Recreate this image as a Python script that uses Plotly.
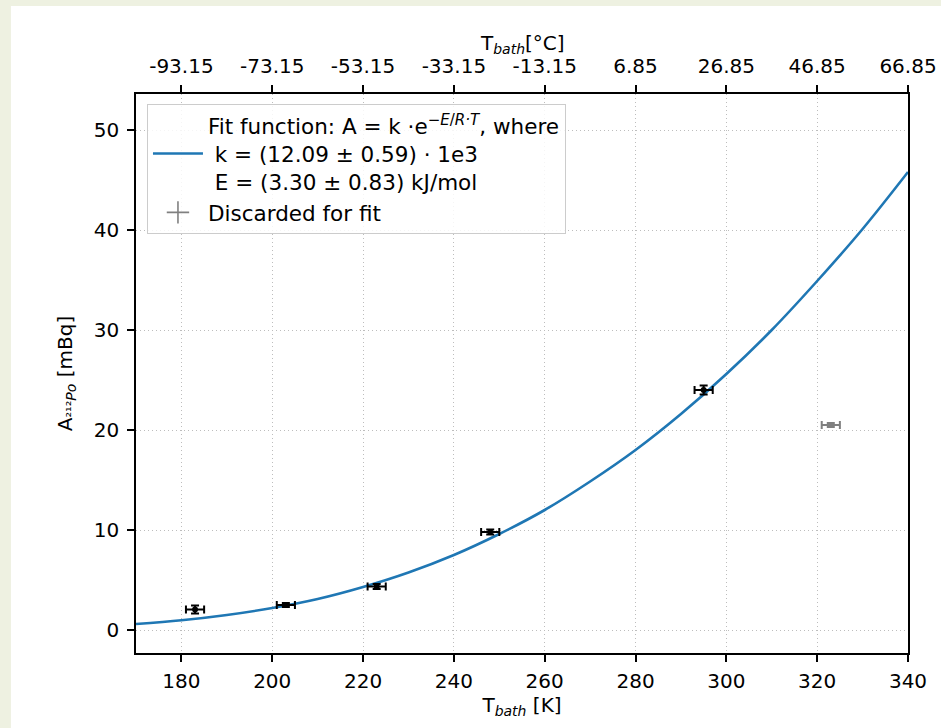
import plotly.graph_objects as go

# ---- data ----
T_fit = [183, 203, 223, 248, 295]
A_fit = [2.05, 2.5, 4.35, 9.8, 24.0]
T_err = [2.0, 2.0, 2.0, 2.0, 2.0]
A_err = [0.4, 0.2, 0.25, 0.25, 0.45]

T_disc = [323]
A_disc = [20.5]
T_disc_err = [2.0]
A_disc_err = [0.2]

curve_T = [170, 180, 190, 200, 210, 220, 230, 240, 250, 260, 270, 280, 290, 300, 310, 320, 330, 340]
curve_A = [0.6, 0.97, 1.5, 2.2, 3.1, 4.3, 5.75, 7.5, 9.6, 12.0, 14.85, 18.0, 21.6, 25.6, 30.0, 34.9, 40.1, 45.8]

x_ticks = [180, 200, 220, 240, 260, 280, 300, 320, 340]
top_tick_labels = ["-93.15", "-73.15", "-53.15", "-33.15", "-13.15", "6.85", "26.85", "46.85", "66.85"]
y_ticks = [0, 10, 20, 30, 40, 50]

FONT = "DejaVu Sans, sans-serif"
GRID = "#bdbdbd"
fig = go.Figure()

fig.add_trace(go.Scatter(
    x=curve_T, y=curve_A, mode="lines", line=dict(color="#1f77b4", width=2.6, shape="spline"),
    name="Fit function: A = k ·e<sup>−<i>E</i>/<i>R·T</i></sup>, where<br> k = (12.09 ± 0.59) · 1e3<br> E = (3.30 ± 0.83) kJ/mol",
))
fig.add_trace(go.Scatter(
    x=T_fit, y=A_fit, mode="markers", marker=dict(color="black", size=6),
    error_x=dict(type="data", array=T_err, color="black", thickness=2, width=4),
    error_y=dict(type="data", array=A_err, color="black", thickness=2, width=4),
    showlegend=False,
))
fig.add_trace(go.Scatter(
    x=T_disc, y=A_disc, mode="markers", marker=dict(color="gray", size=6),
    error_x=dict(type="data", array=T_disc_err, color="gray", thickness=2, width=4),
    error_y=dict(type="data", array=A_disc_err, color="gray", thickness=2, width=4),
    showlegend=False,
))
# legend-only entry for discarded point (error-bar like cross symbol)
fig.add_trace(go.Scatter(
    x=[None], y=[None], mode="markers",
    marker=dict(color="gray", size=16, symbol="cross-thin-open", line=dict(color="gray", width=1.6)),
    name="Discarded for fit",
))
# invisible trace to activate top axis
fig.add_trace(go.Scatter(x=[170, 340], y=[None, None], xaxis="x2", showlegend=False, hoverinfo="skip"))

fig.update_layout(
    width=941, height=728,
    margin=dict(l=136, r=33, t=94, b=75, autoexpand=False),
    paper_bgcolor="#eef1e1",
    plot_bgcolor="white",
    font=dict(family=FONT, size=20, color="black"),
    shapes=[dict(type="rect", xref="paper", yref="paper", x0=-0.162, x1=1.2, y0=-0.3, y1=1.1574,
                 fillcolor="white", line=dict(width=0), layer="below")],
    annotations=[dict(text="T<sub><i>bath</i></sub>[°C]", xref="paper", yref="paper", x=0.5, y=1.0894,
                      xanchor="center", yanchor="middle", showarrow=False, font=dict(size=20))],
    xaxis=dict(
        range=[170, 340], tickvals=x_ticks, showgrid=True, gridcolor=GRID, griddash="1px,3px", gridwidth=1.3,
        showline=True, linecolor="black", linewidth=1.5, ticks="outside", ticklen=7, tickwidth=1.5,
        tickcolor="black", zeroline=False, ticklabelstandoff=2, automargin=False,
        title=dict(text="T<sub><i>bath</i></sub> [K]", font=dict(size=20), standoff=6),
    ),
    xaxis2=dict(
        range=[170, 340], overlaying="x", side="top", tickvals=x_ticks, ticktext=top_tick_labels,
        showgrid=False, showline=True, linecolor="black", linewidth=1.5, ticks="outside", ticklen=7,
        tickwidth=1.5, tickcolor="black", zeroline=False, ticklabelstandoff=4, automargin=False,
    ),
    yaxis=dict(
        range=[-2.3, 53.6], tickvals=y_ticks, showgrid=True, gridcolor=GRID, griddash="1px,3px", gridwidth=1.3,
        showline=True, mirror=True, linecolor="black", linewidth=1.5, ticks="outside", ticklen=7,
        tickwidth=1.5, tickcolor="black", zeroline=False, ticklabelstandoff=4, automargin=False,
        title=dict(text="A<sub>²¹²<i>Po</i></sub> [mBq]", font=dict(size=20), standoff=16),
    ),
    legend=dict(
        x=0.0142, y=0.982, xanchor="left", yanchor="top", bgcolor="rgba(255,255,255,0.85)",
        bordercolor="#cccccc", borderwidth=1, font=dict(size=21.5), valign="middle",
        tracegroupgap=4, itemwidth=50,
    ),
)

fig.write_html(
    "out.html",
    config={"displayModeBar": False},
    post_script="document.body.style.margin='0';document.body.style.background='#eef1e1';document.body.style.overflow='hidden';",
)
